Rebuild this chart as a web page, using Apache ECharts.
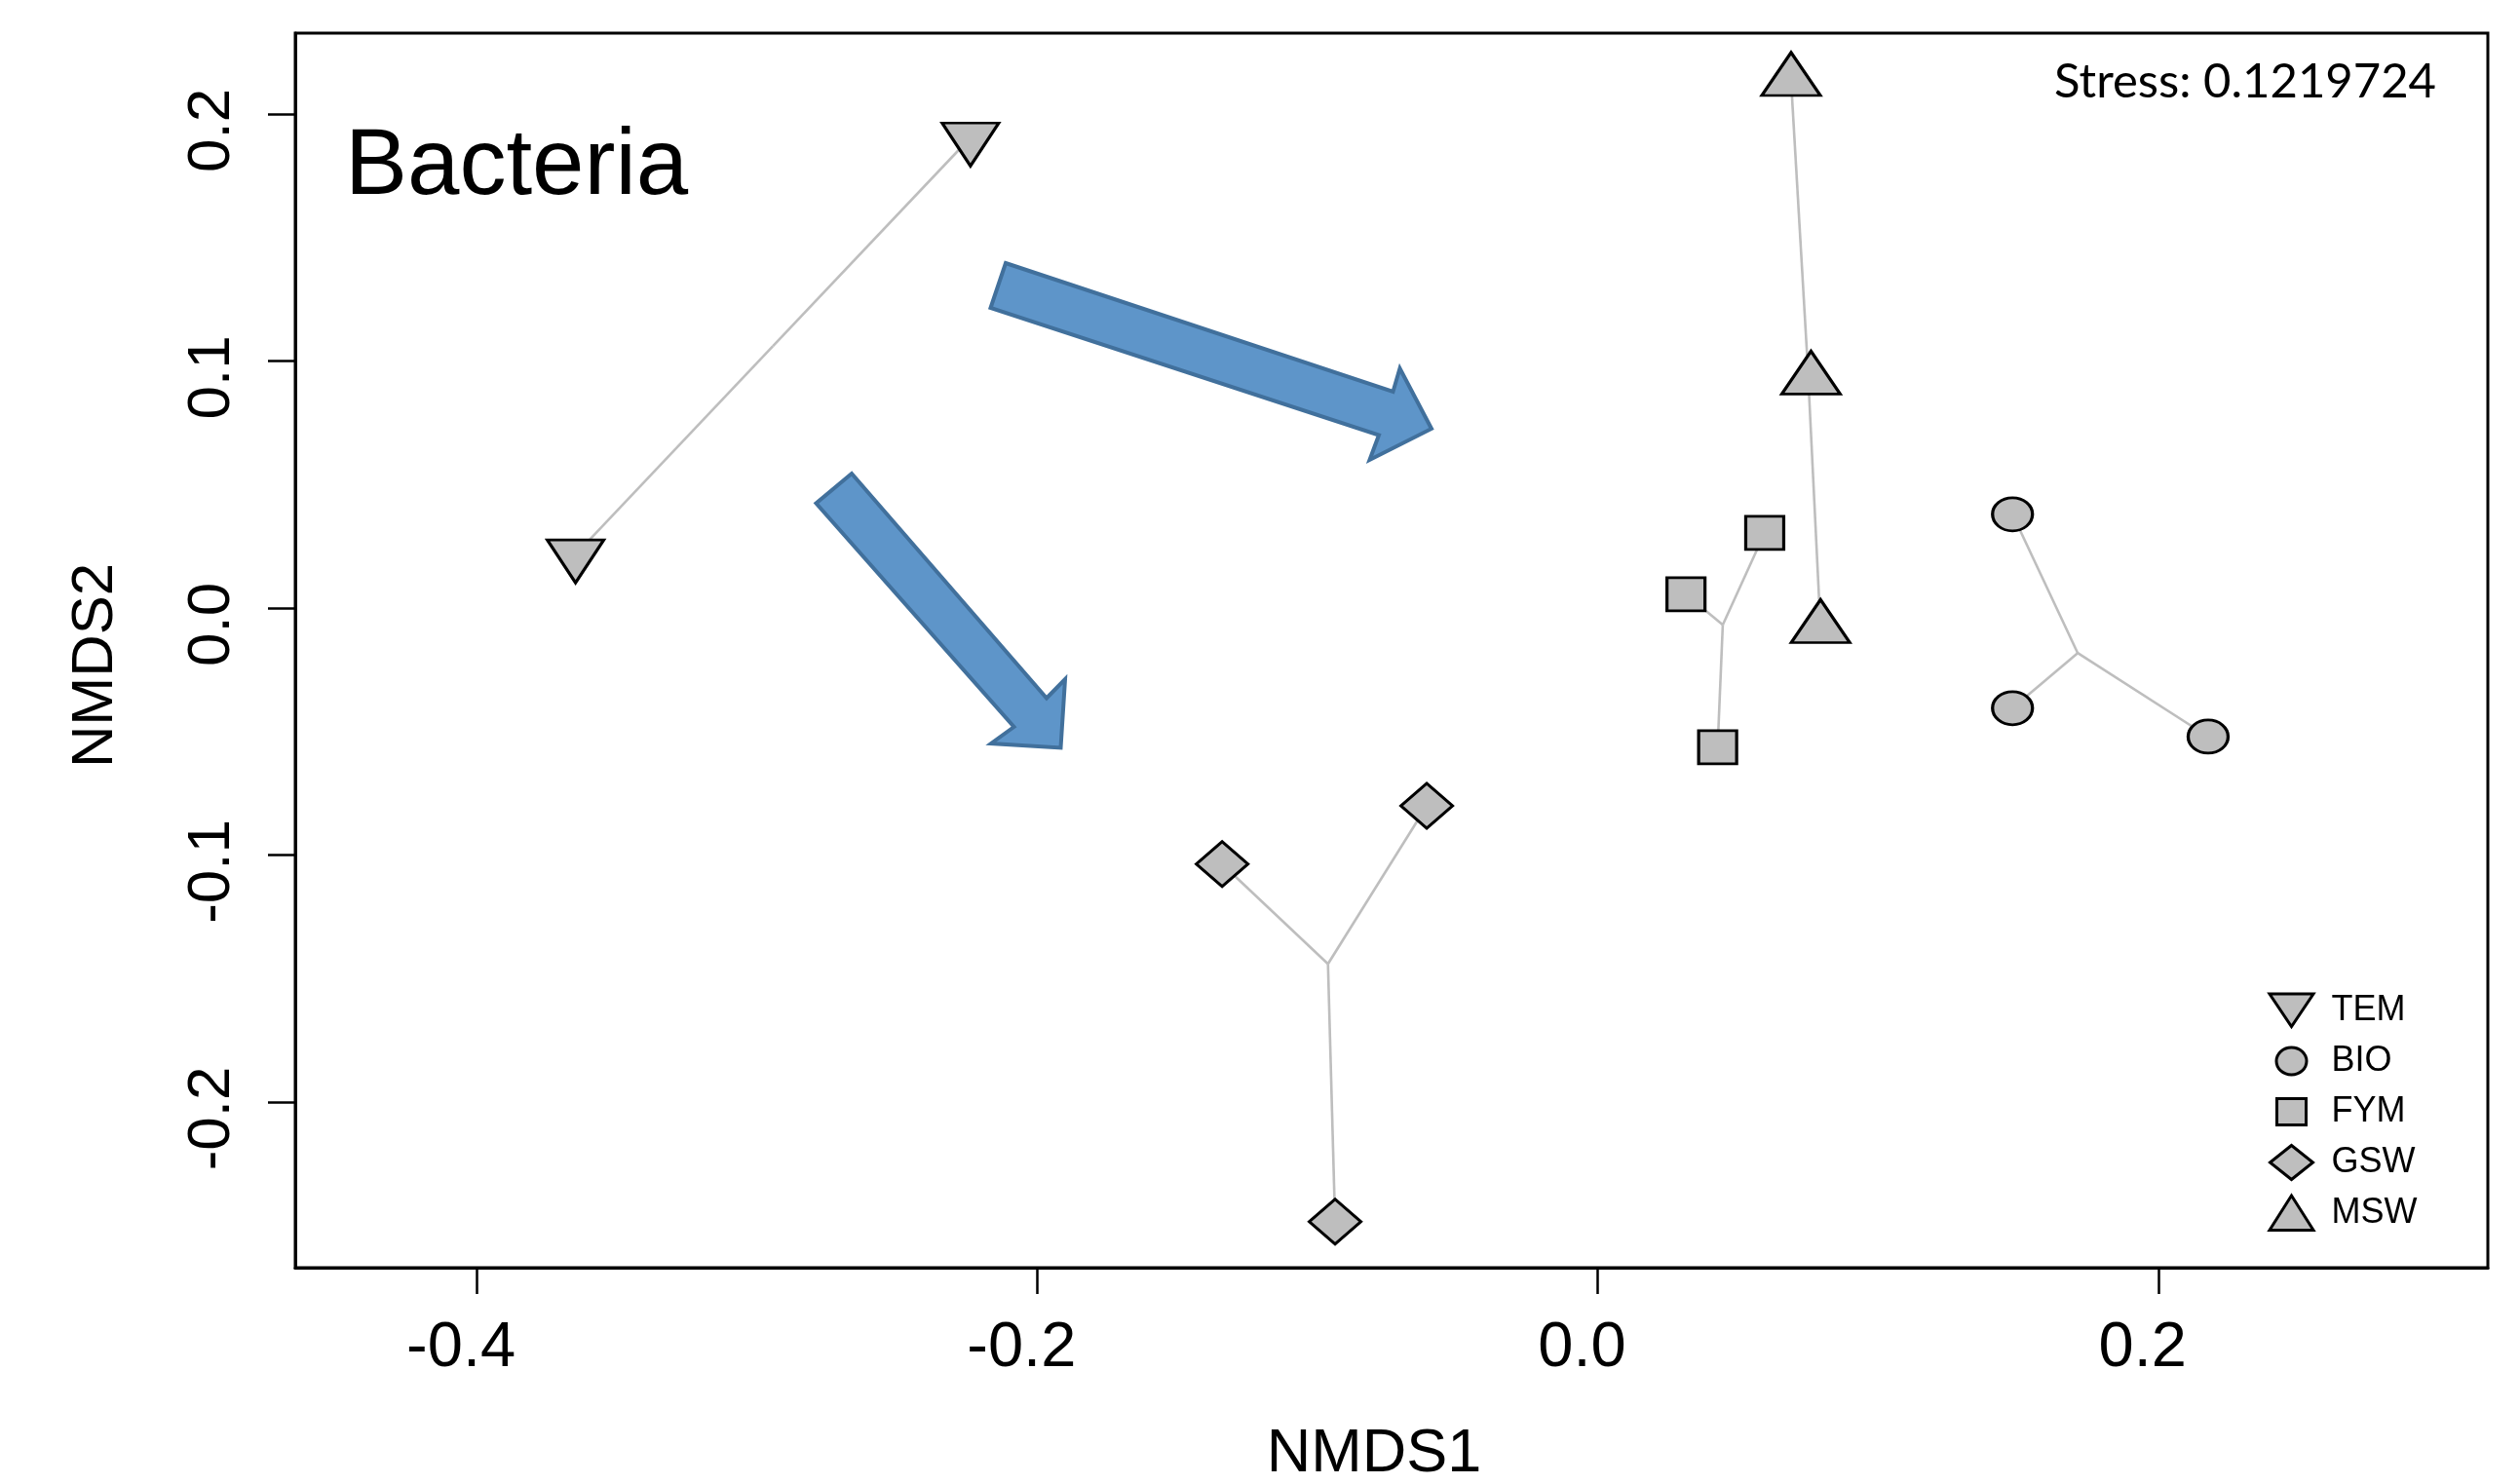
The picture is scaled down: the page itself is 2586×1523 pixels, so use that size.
<!DOCTYPE html>
<html>
<head>
<meta charset="utf-8">
<script src="https://cdn.jsdelivr.net/npm/echarts@6.0.0/dist/echarts.min.js"></script>
<style>
  html, body { margin: 0; padding: 0; background: #fff; }
  #chart { width: 2586px; height: 1523px; }
</style>
</head>
<body>
<div id="chart"></div>
<script>
// NMDS scores, one pair of arrays per treatment
const groups = ['TEM', 'BIO', 'FYM', 'GSW', 'MSW'];
const temNmds1 = [-0.2238, -0.3647];
const temNmds2 = [0.1904, 0.0216];
const bioNmds1 = [0.1480, 0.1480, 0.2178];
const bioNmds2 = [0.0379, -0.0406, -0.0521];
const fymNmds1 = [0.0596, 0.0315, 0.0428];
const fymNmds2 = [0.0304, 0.0055, -0.0564];
const gswNmds1 = [-0.1340, -0.0610, -0.0937];
const gswNmds2 = [-0.1037, -0.0801, -0.2485];
const mswNmds1 = [0.0690, 0.0761, 0.0795];
const mswNmds2 = [0.2134, 0.0925, -0.0081];

const xTicks = [-0.4, -0.2, 0.0, 0.2];
const yTicks = [-0.2, -0.1, 0.0, 0.1, 0.2];
const stressValue = '0.1219724';

const X_MIN = -0.4647, X_MAX = 0.3176;
const Y_MIN = -0.2671, Y_MAX = 0.2327;

const FONT = '"Liberation Sans", Arial, sans-serif';
const FILL = '#bebebe';
const SPIDER = '#bebebe';

const zip = (xs, ys) => xs.map((x, i) => [x, ys[i]]);
const mean = (arr) => arr.reduce((s, v) => s + v, 0) / arr.length;

const groupData = {
  TEM: { x: temNmds1, y: temNmds2 },
  BIO: { x: bioNmds1, y: bioNmds2 },
  FYM: { x: fymNmds1, y: fymNmds2 },
  GSW: { x: gswNmds1, y: gswNmds2 },
  MSW: { x: mswNmds1, y: mswNmds2 },
};

// marker look per group (R pch 25, 21, 22, 23, 24)
const markerStyle = {
  TEM: { symbol: 'path://M0,0 L2,0 L1,2 Z', symbolSize: [58, 44], symbolOffset: [0, 7] },
  BIO: { symbol: 'circle', symbolSize: [41, 34], symbolOffset: [0, 0] },
  FYM: { symbol: 'rect', symbolSize: [39, 34], symbolOffset: [0, 0] },
  GSW: { symbol: 'diamond', symbolSize: [53, 46], symbolOffset: [0, 0] },
  MSW: { symbol: 'triangle', symbolSize: [60, 44], symbolOffset: [0, -7] },
};

// legend icons, every path padded to the same 48x39 box
const legendIcons = {
  TEM: 'path://M0,0 M48,39 M1.5,2.5 L46.5,2.5 L24,36 Z',
  BIO: 'path://M0,0 M48,39 M39.5,19.5 C39.5,27.24 32.56,33.5 24,33.5 C15.44,33.5 8.5,27.24 8.5,19.5 C8.5,11.76 15.44,5.5 24,5.5 C32.56,5.5 39.5,11.76 39.5,19.5 Z',
  FYM: 'path://M0,0 M48,39 M9,6 L39,6 L39,33 L9,33 Z',
  GSW: 'path://M0,0 M48,39 M24,2 L46,19.5 L24,37 L2,19.5 Z',
  MSW: 'path://M0,0 M48,39 M24,1.5 L46.5,37 L1.5,37 Z',
};

// spider: centroid of each group joined to its points
const spiderLines = [];
groups.forEach((g) => {
  const d = groupData[g];
  const cx = mean(d.x);
  const cy = mean(d.y);
  d.x.forEach((x, i) => {
    spiderLines.push({ coords: [[cx, cy], [x, d.y[i]]] });
  });
});

const scatterSeries = groups.map((g) => ({
  name: g,
  type: 'scatter',
  data: zip(groupData[g].x, groupData[g].y),
  symbol: markerStyle[g].symbol,
  symbolSize: markerStyle[g].symbolSize,
  symbolOffset: markerStyle[g].symbolOffset,
  itemStyle: { color: FILL, borderColor: '#000', borderWidth: 3, opacity: 1 },
  silent: true,
  z: 3,
}));

const arrowStyle = { fill: '#5e95c9', stroke: '#41709c', lineWidth: 4, lineJoin: 'miter' };

const chart = echarts.init(document.getElementById('chart'), null, { renderer: 'canvas' });

const option = {
  backgroundColor: '#fff',
  animation: false,
  textStyle: { fontFamily: FONT },
  grid: {
    left: 303,
    top: 34,
    right: 33,
    bottom: 222,
    show: true,
    borderColor: '#000',
    borderWidth: 3,
    backgroundColor: 'transparent',
    outerBoundsMode: 'none',
  },
  xAxis: {
    type: 'value',
    min: X_MIN,
    max: X_MAX,
    axisLine: { show: true, onZero: false, lineStyle: { color: '#000', width: 3 } },
    splitLine: { show: false },
    axisTick: { show: true, customValues: xTicks, length: 27, lineStyle: { color: '#000', width: 2.5 } },
    axisLabel: {
      customValues: xTicks,
      formatter: (v) => Number(v).toFixed(1),
      fontSize: 65,
      fontFamily: FONT,
      color: '#000',
      margin: 51,
      padding: [0, 32, 0, 0],
    },
    name: 'NMDS1',
    nameLocation: 'middle',
    nameGap: 160,
    nameTextStyle: { fontSize: 63, fontFamily: FONT, color: '#000', padding: [0, 36, 0, 0] },
  },
  yAxis: {
    type: 'value',
    min: Y_MIN,
    max: Y_MAX,
    axisLine: { show: true, onZero: false, lineStyle: { color: '#000', width: 3 } },
    splitLine: { show: false },
    axisTick: { show: true, customValues: yTicks, length: 28, lineStyle: { color: '#000', width: 2.5 } },
    axisLabel: {
      customValues: yTicks,
      formatter: (v) => Number(v).toFixed(1),
      rotate: 90,
      fontSize: 62,
      fontFamily: FONT,
      color: '#000',
      margin: 54,
      padding: [0, 34, 0, 0],
    },
    name: 'NMDS2',
    nameLocation: 'middle',
    nameRotate: 90,
    nameGap: 175,
    nameTextStyle: { fontSize: 60, fontFamily: FONT, color: '#000', padding: [0, 31, 0, 0] },
  },
  legend: {
    orient: 'vertical',
    left: 2326,
    top: 1016,
    padding: 0,
    itemWidth: 72,
    itemHeight: 39,
    itemGap: 10,
    symbolKeepAspect: true,
    selectedMode: false,
    itemStyle: { color: FILL, borderColor: '#000', borderWidth: 3 },
    textStyle: { fontSize: 36, lineHeight: 39, fontFamily: FONT, color: '#000' },
    data: groups.map((g) => ({ name: g, icon: legendIcons[g] })),
  },
  series: [
    {
      type: 'lines',
      coordinateSystem: 'cartesian2d',
      polyline: false,
      silent: true,
      z: 1,
      lineStyle: { color: SPIDER, width: 2.6, opacity: 1, curveness: 0 },
      data: spiderLines,
    },
    ...scatterSeries,
  ],
  graphic: [
    {
      type: 'text',
      z: 10,
      style: {
        text: 'Bacteria',
        x: 354,
        y: 173,
        fontSize: 96,
        fontFamily: FONT,
        fill: '#000',
        align: 'left',
        verticalAlign: 'middle',
      },
    },
    {
      type: 'text',
      z: 10,
      style: {
        text: 'Stress: ' + stressValue,
        x: 2500,
        y: 84,
        fontSize: 49,
        fontFamily: 'Lato, "Open Sans", sans-serif',
        fill: '#000',
        align: 'right',
        verticalAlign: 'middle',
      },
    },
    {
      type: 'polygon',
      z: 10,
      shape: {
        points: [[1032, 270], [1429.5, 402], [1436.5, 378], [1469, 440], [1405.5, 472], [1415, 446.5], [1016.5, 316]],
      },
      style: arrowStyle,
    },
    {
      type: 'polygon',
      z: 10,
      shape: {
        points: [[874, 486], [1074, 716.5], [1093, 697], [1088.5, 767.5], [1017, 763], [1040.5, 746], [837.5, 516.5]],
      },
      style: arrowStyle,
    },
  ],
};

chart.setOption(option);
</script>
</body>
</html>
